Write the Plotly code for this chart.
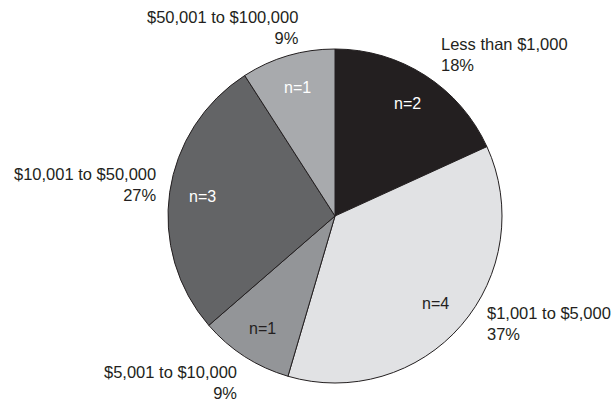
import math
import plotly.graph_objects as go

categories = ["Less than $1,000", "$1,001 to $5,000", "$5,001 to $10,000",
              "$10,001 to $50,000", "$50,001 to $100,000"]
counts = [2, 4, 1, 3, 1]
percent_labels = ["18%", "37%", "9%", "27%", "9%"]
slice_colors = ["#231f20", "#e1e2e4", "#939598", "#636466", "#a8aaad"]
text_colors = ["white", "#231f20", "#231f20", "white", "white"]

W, H = 616, 402
FONT = "Liberation Sans, Arial, sans-serif"

# pie geometry in pixels
CX, CY, R = 335, 216, 167

fig = go.Figure()
fig.add_trace(go.Pie(
    labels=categories,
    values=counts,
    sort=False,
    direction="clockwise",
    rotation=0,
    marker=dict(colors=slice_colors, line=dict(color="#231f20", width=1)),
    textinfo="none",
    hoverinfo="label+value",
    domain=dict(x=[(CX - R) / W, (CX + R) / W], y=[1 - (CY + R) / H, 1 - (CY - R) / H]),
    showlegend=False,
))

# n= labels on each slice bisector at 0.8 of the radius
total = sum(counts)
cum = 0
for n, col in zip(counts, text_colors):
    theta = 2 * math.pi * (cum + n / 2) / total
    cum += n
    tx = CX + 0.8 * R * math.sin(theta)
    ty = CY - 0.8 * R * math.cos(theta)
    fig.add_annotation(
        x=tx / W, y=1 - ty / H, xref="paper", yref="paper",
        xanchor="center", yanchor="middle",
        text="n=%d" % n, showarrow=False,
        font=dict(family=FONT, size=16, color=col),
    )

# outside labels (pixel positions of the text blocks)
label_pos = [
    (439, 33, "left"),
    (485, 302, "left"),
    (239, 361, "right"),
    (159, 163, "right"),
    (301, 6, "right"),
]
for cat, pct, (px_, py_, side) in zip(categories, percent_labels, label_pos):
    fig.add_annotation(
        x=px_ / W, y=1 - py_ / H, xref="paper", yref="paper",
        xanchor=side, yanchor="top", align=side,
        text=cat + "<br>" + pct, showarrow=False,
        font=dict(family=FONT, size=16.5, color="#231f20"),
    )

fig.update_layout(
    width=W, height=H,
    margin=dict(l=0, r=0, t=0, b=0),
    paper_bgcolor="white",
    plot_bgcolor="white",
)

# drop the default body margin so the figure fills the window
fig.write_html("out.html", config={"displayModeBar": False},
               post_script="document.body.style.margin='0';")
